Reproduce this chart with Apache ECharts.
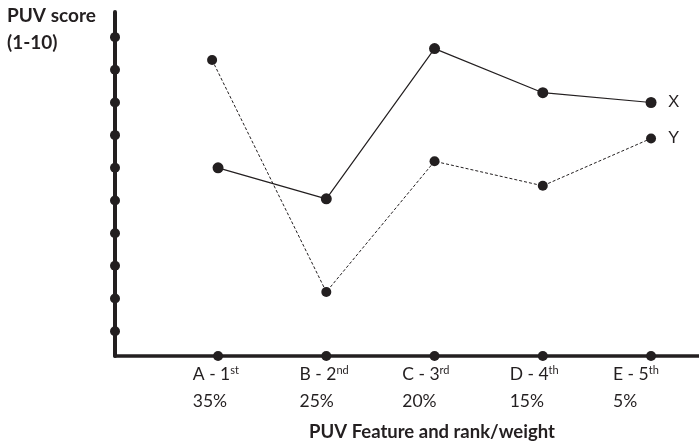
<!DOCTYPE html>
<html>
<head>
<meta charset="utf-8">
<script src="https://cdn.jsdelivr.net/npm/echarts@6/dist/echarts.min.js"></script>
<style>
  html, body { margin: 0; background: #fff; }
  #chart { width: 699px; height: 446px; }
</style>
</head>
<body>
<div id="chart"></div>
<script>
// feature categories along the bottom
const featureLabels = ['A - 1', 'B - 2', 'C - 3', 'D - 4', 'E - 5']
const rankSuffix = ['st', 'nd', 'rd', 'th', 'th']
const weights = ['35%', '25%', '20%', '15%', '5%']
const featurePos = [1, 2, 3, 4, 5]
const scoreTicks = [1, 2, 3, 4, 5, 6, 7, 8, 9, 10]

// PUV scores
const seriesXpos = [1, 2, 3, 4, 5]
const seriesX = [6.0, 5.05, 9.65, 8.3, 8.0]
const seriesYpos = [0.945, 2, 3, 4, 5]
const seriesY = [9.3, 2.2, 6.2, 5.45, 6.9]

// where the two-line labels sit (slightly left of the dots, as drawn)
const labelPos = [0.98, 1.98, 2.92, 3.92, 4.86]

const ink = '#231f20'
const xMin = 0.048
const xMax = 5.443
const yMin = 0.24
const yMax = 10.77

function nearestLabel(v) {
  let best = 0
  for (let i = 1; i < labelPos.length; i += 1) {
    if (Math.abs(labelPos[i] - v) < Math.abs(labelPos[best] - v)) best = i
  }
  return best
}

const chart = echarts.init(document.getElementById('chart'), null, { renderer: 'canvas' })

chart.setOption({
  animation: false,
  backgroundColor: '#fff',
  grid: { left: 115, right: 0, top: 12, bottom: 90 },
  xAxis: {
    type: 'value',
    min: xMin,
    max: xMax,
    axisLine: { show: true, lineStyle: { color: ink, width: 3.5 } },
    axisTick: { show: false },
    splitLine: { show: false },
    axisLabel: {
      customValues: labelPos,
      showMinLabel: true,
      showMaxLabel: true,
      hideOverlap: false,
      margin: 5,
      align: 'center',
      fontFamily: 'Lato',
      color: ink,
      formatter: (v) => {
        const i = nearestLabel(v)
        return `{t|${featureLabels[i]}}{s|${rankSuffix[i]}}\n{t|${weights[i]}}`
      },
      rich: {
        t: { fontFamily: 'Lato', fontSize: 17.5, lineHeight: 27, color: ink, align: 'left' },
        s: { fontFamily: 'Lato', fontSize: 11, lineHeight: 27, color: ink, align: 'left', verticalAlign: 'top', padding: [4, 0, 0, 0] },
      },
    },
  },
  yAxis: {
    type: 'value',
    min: yMin,
    max: yMax,
    axisLine: { show: true, lineStyle: { color: ink, width: 4 } },
    axisTick: { show: false },
    axisLabel: { show: false },
    splitLine: { show: false },
  },
  graphic: [
    {
      type: 'text',
      x: 7,
      y: 2,
      style: {
        text: 'PUV score\n(1-10)',
        font: 'bold 19px Lato',
        lineHeight: 27,
        fill: ink,
        textVerticalAlign: 'top',
      },
    },
    {
      type: 'text',
      x: 432,
      y: 423,
      style: {
        text: 'PUV Feature and rank/weight',
        font: 'bold 18.5px Lato',
        fill: ink,
        textAlign: 'center',
        textVerticalAlign: 'top',
      },
    },
  ],
  series: [
    {
      name: 'X',
      type: 'line',
      data: seriesXpos.map((x, i) => [x, seriesX[i]]),
      symbol: 'circle',
      symbolSize: 11,
      itemStyle: { color: ink },
      lineStyle: { color: ink, width: 1.2 },
      endLabel: { show: true, formatter: 'X', distance: 17, fontFamily: 'Liberation Sans', fontSize: 17, color: ink },
      z: 5,
    },
    {
      name: 'Y',
      type: 'line',
      data: seriesYpos.map((x, i) => [x, seriesY[i]]),
      symbol: 'circle',
      symbolSize: 10,
      itemStyle: { color: ink },
      lineStyle: { color: ink, width: 1, type: [3, 2] },
      endLabel: { show: true, formatter: 'Y', distance: 17, fontFamily: 'Liberation Sans', fontSize: 17, color: ink },
      z: 5,
    },
    {
      // dots on the score axis
      type: 'scatter',
      data: scoreTicks.map((v) => [xMin, v]),
      symbol: 'circle',
      symbolSize: 10,
      itemStyle: { color: ink, opacity: 1 },
      clip: false,
      silent: true,
    },
    {
      // dots on the feature axis
      type: 'scatter',
      data: featurePos.map((v) => [v, yMin]),
      symbol: 'circle',
      symbolSize: 10,
      itemStyle: { color: ink, opacity: 1 },
      clip: false,
      silent: true,
    },
  ],
})
</script>
</body>
</html>
